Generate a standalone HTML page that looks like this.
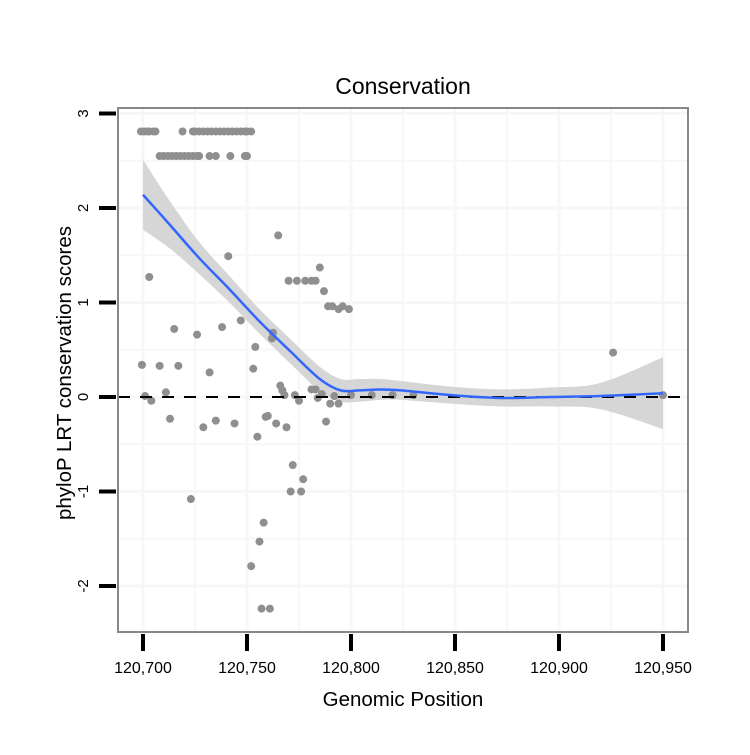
<!DOCTYPE html>
<html><head><meta charset="utf-8"><style>
body{margin:0;background:#fff}
text{font-family:"Liberation Sans",sans-serif}
</style></head><body>
<svg id="chart" width="750" height="750" xmlns="http://www.w3.org/2000/svg">
<text x="403" y="94" text-anchor="middle" font-size="23">Conservation</text>
<text x="403" y="706" text-anchor="middle" font-size="20.5">Genomic Position</text>
<text transform="translate(71,373) rotate(-90)" text-anchor="middle" font-size="20.5">phyloP LRT conservation scores</text>
<g id="grid"></g><g id="band"></g><g id="pts"></g><g id="line"></g><g id="axes"></g>
<rect x="118" y="108" width="570" height="524" fill="none" stroke="#888" stroke-width="2"/>
</svg>
<script>
const NS="http://www.w3.org/2000/svg";
const xTicks=[120700,120750,120800,120850,120900,120950];
const xTickLabels=["120,700","120,750","120,800","120,850","120,900","120,950"];
const yTicks=[-2,-1,0,1,2,3];
const yTickLabels=["-2","-1","0","1","2","3"];
const ptX=[120699,120700.5,120702,120703,120705,120706,120719,120724,120725,120727,120729,120731,120733,120735,120737,120739,120741,120743,120745,120747,120749,120750,120752,
120708,120710,120712,120714,120716,120718,120720,120722,120724,120726,120727,120732,120735,120742,120749,120750,
120765,120741,120703,120785,120770,120774,120778,120781,120783,120787,120789,120791,120794,120796,120799,120715,120726,120738,120747,120754,120762,120762.5,120699.5,120708,120717,120732,120753,
120711,120701,120704,120713,120729,120735,120744,120755,120759,120760,120764,120769,120766,120767,120768,120773,120775,120781,120783,120784,120786,120790,120794,120792,120788,120772,120777,120771,120776,120723,120758,120756,120752,120757,120761,120926,
120800,120810,120820,120830,120950];
const ptY=[2.81,2.81,2.81,2.81,2.81,2.81,2.81,2.81,2.81,2.81,2.81,2.81,2.81,2.81,2.81,2.81,2.81,2.81,2.81,2.81,2.81,2.81,2.81,
2.55,2.55,2.55,2.55,2.55,2.55,2.55,2.55,2.55,2.55,2.55,2.55,2.55,2.55,2.55,2.55,
1.71,1.49,1.27,1.37,1.23,1.23,1.23,1.23,1.23,1.12,0.96,0.96,0.93,0.96,0.93,0.72,0.66,0.74,0.81,0.53,0.62,0.68,0.34,0.33,0.33,0.26,0.30,
0.05,0.01,-0.04,-0.23,-0.32,-0.25,-0.28,-0.42,-0.21,-0.2,-0.28,-0.32,0.12,0.07,0.02,0.02,-0.04,0.08,0.08,-0.01,0.03,-0.07,-0.07,0.01,-0.26,-0.72,-0.87,-1.0,-1.0,-1.08,-1.33,-1.53,-1.79,-2.24,-2.24,0.47,
0.02,0.02,0.02,0.02,0.02];
const smoothX=[120700,120713,120727,120742,120756,120771,120785,120795,120804,120814,120824,120848,120872,120896,120920,120950];
const smoothY=[2.14,1.82,1.47,1.13,0.80,0.48,0.19,0.07,0.07,0.08,0.07,0.02,-0.01,0.0,0.01,0.04];
const ciHalf=[0.37,0.25,0.17,0.14,0.13,0.13,0.13,0.12,0.12,0.11,0.1,0.09,0.09,0.1,0.14,0.38];
const X=v=>143+(v-120700)*2.08;
const Y=v=>397-v*94.5;
function mk(tag,attrs,parent){const e=document.createElementNS(NS,tag);for(const k in attrs)e.setAttribute(k,attrs[k]);document.getElementById(parent).appendChild(e);return e;}
function spline(pts){let d='M'+pts[0][0]+','+pts[0][1];for(let i=0;i<pts.length-1;i++){const p0=pts[Math.max(0,i-1)],p1=pts[i],p2=pts[i+1],p3=pts[Math.min(pts.length-1,i+2)];
const c1=[p1[0]+(p2[0]-p0[0])/6,p1[1]+(p2[1]-p0[1])/6],c2=[p2[0]-(p3[0]-p1[0])/6,p2[1]-(p3[1]-p1[1])/6];
d+=` C${c1[0]},${c1[1]} ${c2[0]},${c2[1]} ${p2[0]},${p2[1]}`;}return d;}
for(let v=120675;v<=120975;v+=25){if(X(v)<118||X(v)>688)continue;const l=mk('line',{x1:X(v),x2:X(v),y1:108,y2:632,stroke:'#f7f7f7','stroke-width':v%50===0?3:2},'grid');

}
for(let v=-2.5;v<=3;v+=0.5){if(Y(v)<108||Y(v)>632)continue;const l=mk('line',{x1:118,x2:688,y1:Y(v),y2:Y(v),stroke:'#f7f7f7','stroke-width':Number.isInteger(v)?3:2},'grid');

}
const upP=smoothX.map((x,i)=>[X(x),Y(smoothY[i]+ciHalf[i])]);
const loP=smoothX.map((x,i)=>[X(x),Y(smoothY[i]-ciHalf[i])]).reverse();
const band=mk('path',{d:spline(upP)+' L'+spline(loP).slice(1)+' Z',fill:'#d6d6d6'},'band');


const z=mk('line',{x1:118,x2:688,y1:Y(0),y2:Y(0),stroke:'#000','stroke-width':2,'stroke-dasharray':'12,10'},'line');


ptX.forEach((x,i)=>{const c=mk('circle',{cx:X(x),cy:Y(ptY[i]),r:4,fill:'#8f8f8f'},'pts');

});
const sl=mk('path',{d:spline(smoothX.map((x,i)=>[X(x),Y(smoothY[i])])),fill:'none',stroke:'#3366ff','stroke-width':2.5},'line');


xTicks.forEach((v,i)=>{const t=mk('line',{x1:X(v),x2:X(v),y1:634,y2:651,stroke:'#000','stroke-width':4},'axes');


const tx=mk('text',{x:X(v),y:673,'text-anchor':'middle','font-size':16},'axes');tx.textContent=xTickLabels[i];

});
yTicks.forEach((v,i)=>{const t=mk('line',{x1:99,x2:116,y1:Y(v),y2:Y(v),stroke:'#000','stroke-width':4},'axes');


const tx=mk('text',{transform:`translate(88,${Y(v)}) rotate(-90)`,'text-anchor':'middle','font-size':15},'axes');tx.textContent=yTickLabels[i];

});
</script>
</body></html>
